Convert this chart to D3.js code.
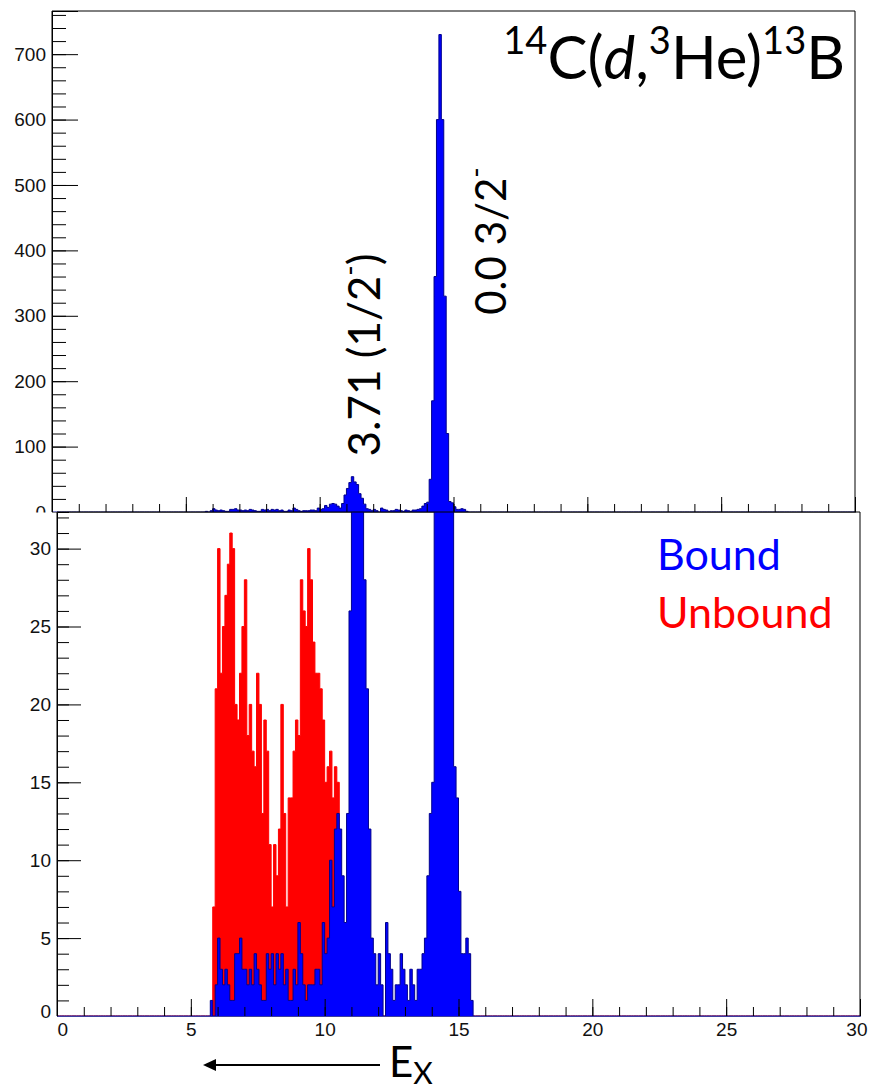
<!DOCTYPE html>
<html><head><meta charset="utf-8">
<script src="https://cdn.jsdelivr.net/npm/d3@7/dist/d3.min.js"></script>
<style>body{margin:0;background:#fff}svg{display:block}</style>
</head><body>
<svg id="c" width="869" height="1092"></svg>
<script>
// ---------- data ----------
const xDomain = [0, 30];
const nBins = 330;                 // histogram binning over xDomain
const boundStartBin = 63;          // first bin index of the bound counts
const boundCounts = [
  1,0,2,5,3,2,3,2,1,1,
  4,4,5,3,3,2,3,2,4,3,
  2,1,1,4,3,4,2,4,3,4,
  2,3,1,1,3,2,6,4,2,1,
  2,2,2,3,3,2,6,4,5,10,
  7,12,13,12,9,6,13,26,36,45,
  54,46,42,28,21,12,5,4,2,4,
  2,0,6,4,3,1,2,2,4,3,
  2,1,3,2,1,3,3,4,5,9,
  13,15,50,170,360,600,730,600,330,120,
  16,14,8,4,4,5,4,1
];
const unboundStartBin = 64;
const unboundCounts = [
  7,21,30,22,25,27,29,31,30,20,
  19,22,25,28,18,20,17,16,22,20,
  13,19,17,11,7,11,9,12,20,13,
  7,14,14,17,19,18,28,26,25,30,
  28,24,22,22,21,19,15,16,17,14,
  16,15
];
const topYDomain = [0, 766];
const bottomYDomain = [0, 32.35];
const topYMajor = [0,100,200,300,400,500,600,700];
const topYMinor = d3.range(0, 761, 20);
const bottomYMajor = [0,5,10,15,20,25,30];
const bottomYMinor = d3.range(0, 33, 1);
const xMajor = [0,5,10,15,20,25,30];
const xMinor = d3.range(0, 31, 1);
const legendLabels = ["Bound", "Unbound"];
const peakLabels = [
  {main: "3.71 (1/2", sup: "-", tail: ")"},
  {main: "0.0 3/2", sup: "-", tail: ""}
];
const reaction = [
  {t: "14", sup: true}, {t: "C(", sup: false}, {t: "d", sup: false, it: true},
  {t: ",", sup: false}, {t: "3", sup: true}, {t: "He)", sup: false},
  {t: "13", sup: true}, {t: "B", sup: false}
];
const axisLabel = {main: "E", sub: "X"};

// ---------- helpers ----------
const binW = (xDomain[1] - xDomain[0]) / nBins;
function fullBins(start, counts) {
  const a = new Array(nBins).fill(0);
  counts.forEach((c, i) => { a[start + i] = c; });
  return a;
}
function stepPts(vals) {
  const p = [];
  vals.forEach((v, k) => {
    const x0 = xDomain[0] + k * binW;
    p.push([x0, v], [x0 + binW, v]);
  });
  return p;
}
const bound = fullBins(boundStartBin, boundCounts);
const unbound = fullBins(unboundStartBin, unboundCounts);

const svg = d3.select("#c");
svg.append("rect").attr("width", 869).attr("height", 1092).attr("fill", "#fff");
const FONT = "'Liberation Sans', Arial, sans-serif";
const TFONT = "Lato, 'Open Sans', sans-serif";
const BLUE = "#0000ff", NAVY = "#00008c", RED = "#ff0000";

function drawHist(g, x, y, vals, fill, stroke, clipId) {
  const pts = stepPts(vals);
  const area = d3.area().x(d => x(d[0])).y0(y(0)).y1(d => y(d[1]));
  const line = d3.line().x(d => x(d[0])).y(d => y(d[1]));
  g.append("path").attr("d", area(pts)).attr("fill", fill).attr("clip-path", `url(#${clipId})`);
  g.append("path").attr("d", line(pts)).attr("fill", "none").attr("stroke", stroke)
    .attr("stroke-width", 1).attr("clip-path", `url(#${clipId})`);
}
function styleAxis(g) {
  g.selectAll("path.domain").attr("stroke", "#000");
  g.selectAll("line").attr("stroke", "#000");
  g.selectAll("text").attr("font-family", FONT).attr("font-size", 19).attr("fill", "#111");
}

// ---------- top panel ----------
const T = {l: 52, r: 855, t: 11, b: 512};
const xT = d3.scaleLinear().domain(xDomain).range([T.l, T.r]);
const yT = d3.scaleLinear().domain(topYDomain).range([T.b, T.t]);
const defs = svg.append("defs");
defs.append("clipPath").attr("id", "clipT").append("rect")
  .attr("x", T.l).attr("y", T.t).attr("width", T.r - T.l).attr("height", T.b - T.t);
const gT = svg.append("g");
drawHist(gT, xT, yT, bound, BLUE, NAVY, "clipT");
gT.append("path").attr("d", `M${T.l},${T.b}V${T.t}H${T.r}V${T.b}`).attr("fill", "none").attr("stroke", "#000");
const ayTmin = gT.append("g").attr("transform", `translate(${T.l},0)`)
  .call(d3.axisLeft(yT).tickValues(topYMinor).tickSize(-14).tickFormat(""));
styleAxis(ayTmin);
const ayT = gT.append("g").attr("transform", `translate(${T.l},0)`)
  .call(d3.axisLeft(yT).tickValues(topYMajor).tickSize(-26).tickPadding(6).tickFormat(d3.format("d")));
styleAxis(ayT);
const axTmin = gT.append("g").attr("transform", `translate(0,${T.b})`)
  .call(d3.axisBottom(xT).tickValues(xMinor).tickSize(-8).tickFormat(""));
styleAxis(axTmin);
const axT = gT.append("g").attr("transform", `translate(0,${T.b})`)
  .call(d3.axisBottom(xT).tickValues(xMajor).tickSize(-15).tickFormat(""));
styleAxis(axT);

// ---------- bottom panel ----------
const B = {l: 57, r: 860, t: 512, b: 1016};
svg.append("rect").attr("x", 0).attr("y", B.t + 0.5).attr("width", 869).attr("height", 1092 - B.t).attr("fill", "#fff");
const xB = d3.scaleLinear().domain(xDomain).range([B.l, B.r]);
const yB = d3.scaleLinear().domain(bottomYDomain).range([B.b, B.t]);
defs.append("clipPath").attr("id", "clipB").append("rect")
  .attr("x", B.l).attr("y", B.t).attr("width", B.r - B.l).attr("height", B.b - B.t + 1);
const gB = svg.append("g");
drawHist(gB, xB, yB, unbound, RED, RED, "clipB");
drawHist(gB, xB, yB, bound, BLUE, NAVY, "clipB");
gB.append("path").attr("d", `M${B.l},${B.b}V${B.t}H${B.r}V${B.b}`).attr("fill", "none").attr("stroke", "#000");
const ayBmin = gB.append("g").attr("transform", `translate(${B.l},0)`)
  .call(d3.axisLeft(yB).tickValues(bottomYMinor).tickSize(-12).tickFormat(""));
styleAxis(ayBmin);
const ayB = gB.append("g").attr("transform", `translate(${B.l},0)`)
  .call(d3.axisLeft(yB).tickValues(bottomYMajor).tickSize(-24).tickPadding(6).tickFormat(d3.format("d")));
styleAxis(ayB);
ayB.select("path.domain").remove();
const axBmin = gB.append("g").attr("transform", `translate(0,${B.b})`)
  .call(d3.axisBottom(xB).tickValues(xMinor).tickSize(-9).tickFormat(""));
styleAxis(axBmin);
axBmin.select("path.domain").attr("stroke", "#3c3ca0");
const axB = gB.append("g").attr("transform", `translate(0,${B.b})`)
  .call(d3.axisBottom(xB).tickValues(xMajor).tickSize(-17).tickPadding(7).tickFormat(d3.format("d")));
styleAxis(axB);
axB.select("path.domain").remove();
axB.selectAll(".tick text").filter(d => d === 0).attr("text-anchor", "start").attr("x", 0);
axB.selectAll(".tick text").filter(d => d === 30).attr("text-anchor", "end").attr("x", 7);
ayB.selectAll(".tick text").filter(d => d === 0).attr("dy", "0.1em");

// ---------- annotations ----------
const title = svg.append("text").attr("x", 845).attr("y", 79).attr("text-anchor", "end")
  .attr("font-family", TFONT).attr("font-size", 60).attr("fill", "#000");
let raised = false;
reaction.forEach(p => {
  const ts = title.append("tspan").text(p.t);
  if (p.sup && !raised) { ts.attr("dy", -25); raised = true; }
  else if (!p.sup && raised) { ts.attr("dy", 25); raised = false; }
  if (p.sup) ts.attr("font-size", 38);
  if (p.it) ts.attr("font-style", "italic");
});

function rotLabel(cx, cy, lab, fs) {
  const t = svg.append("text").attr("transform", `translate(${cx},${cy}) rotate(-90)`)
    .attr("text-anchor", "middle").attr("font-family", TFONT).attr("font-size", fs).attr("fill", "#000");
  t.append("tspan").text(lab.main);
  t.append("tspan").attr("dy", -20).attr("font-size", 28).text(lab.sup);
  if (lab.tail) t.append("tspan").attr("dy", 20).text(lab.tail);
}
rotLabel(380, 355, peakLabels[0], 44);
rotLabel(506, 241, peakLabels[1], 42);

svg.append("text").attr("x", 657).attr("y", 570).attr("font-family", TFONT).attr("font-size", 43)
  .attr("fill", BLUE).text(legendLabels[0]);
svg.append("text").attr("x", 657).attr("y", 628).attr("font-family", TFONT).attr("font-size", 43)
  .attr("fill", RED).text(legendLabels[1]);

// E_X with arrow
const ex = svg.append("text").attr("x", 389).attr("y", 1077).attr("font-family", TFONT)
  .attr("font-size", 42).attr("fill", "#000");
ex.append("tspan").text(axisLabel.main);
ex.append("tspan").attr("dy", 7).attr("font-size", 30).text(axisLabel.sub);
svg.append("line").attr("x1", 380).attr("x2", 214).attr("y1", 1065).attr("y2", 1065)
  .attr("stroke", "#000").attr("stroke-width", 2);
svg.append("path").attr("d", "M203,1065L216,1059L216,1071Z").attr("fill", "#000");
</script>
</body></html>
